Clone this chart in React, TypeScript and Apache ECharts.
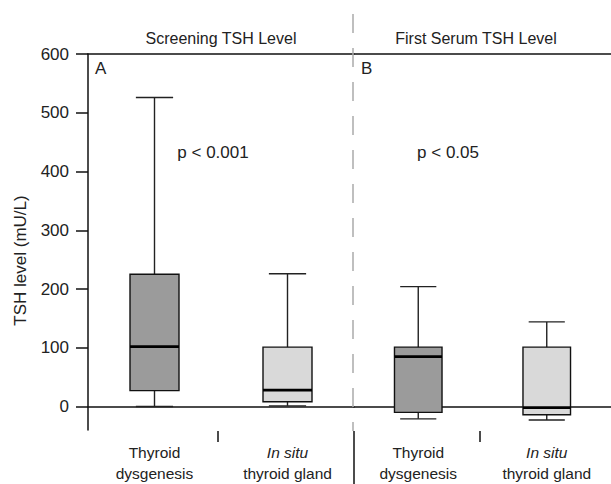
import React, { useEffect, useRef } from "react";
import * as echarts from "echarts";

// ---- data ----
const panelTitles = ["Screening TSH Level", "First Serum TSH Level"];
const panelLetters = ["A", "B"];
const pValues = ["p < 0.001", "p < 0.05"];
const categories = ["Thyroid\ndysgenesis", "{i|In situ}\nthyroid gland"];
const yTicks = [0, 100, 200, 300, 400, 500, 600];
// [categoryIndex, min, Q1, median, Q3, max]
const screeningBoxes = [
  [0, 0, 27, 102, 225, 526],
  [1, 1, 8, 28, 101, 226],
];
const firstSerumBoxes = [
  [0, -21, -10, 85, 101, 204],
  [1, -23, -14, -2, 101, 144],
];
const boxFills = ["#9b9b9b", "#d9d9d9"];

const FONT = "Liberation Sans";
const TEXT = "#222";

function renderBox(params: any, api: any) {
  const c = api.value(0);
  const lo = api.coord([c, api.value(1)]);
  const q1 = api.coord([c, api.value(2)]);
  const md = api.coord([c, api.value(3)]);
  const q3 = api.coord([c, api.value(4)]);
  const hi = api.coord([c, api.value(5)]);
  const band = api.size([1, 0])[0];
  const bw = Math.min(band * 0.37, 49);
  const cw = bw * 0.76;
  const x = lo[0];
  const ls = { stroke: "#222", lineWidth: 1.4 };
  return {
    type: "group",
    children: [
      { type: "line", shape: { x1: x, y1: q3[1], x2: x, y2: hi[1] }, style: ls },
      { type: "line", shape: { x1: x - cw / 2, y1: hi[1], x2: x + cw / 2, y2: hi[1] }, style: ls },
      { type: "line", shape: { x1: x, y1: q1[1], x2: x, y2: lo[1] }, style: ls },
      { type: "line", shape: { x1: x - cw / 2, y1: lo[1], x2: x + cw / 2, y2: lo[1] }, style: ls },
      {
        type: "rect",
        shape: { x: x - bw / 2, y: q3[1], width: bw, height: q1[1] - q3[1] },
        style: { fill: boxFills[c], stroke: "#111", lineWidth: 1.4 },
      },
      {
        type: "line",
        shape: { x1: x - bw / 2, y1: md[1], x2: x + bw / 2, y2: md[1] },
        style: { stroke: "#000", lineWidth: 2.8 },
      },
    ],
  };
}

export default function App() {
  const ref = useRef<HTMLDivElement>(null);
  useEffect(() => {
    if (!ref.current) return;
    const chart = echarts.init(ref.current, null, { renderer: "svg" });
    const axisLine = { show: true, lineStyle: { color: "#111", width: 1.5 } };
    const bottomX = (gi: number) => ({
      type: "category",
      gridIndex: gi,
      data: categories,
      position: "bottom",
      axisLine,
      axisTick: { show: false },
      axisLabel: {
        margin: 12,
        color: TEXT,
        fontFamily: FONT,
        fontSize: 15.5,
        lineHeight: 21,
        rich: { i: { fontStyle: "italic", fontFamily: FONT, fontSize: 15.5, color: TEXT, lineHeight: 21 } },
      },
    });
    const topX = (gi: number) => ({
      type: "category",
      gridIndex: gi,
      data: categories,
      position: "top",
      axisLine,
      axisTick: { show: false },
      axisLabel: { show: false },
    });
    const tick = (x: number, y2: number) => ({
      type: "line",
      shape: { x1: x, y1: 431, x2: x, y2 },
      style: { stroke: "#111", lineWidth: 1.5 },
    });
    const option: any = {
      animation: false,
      backgroundColor: "#fff",
      textStyle: { fontFamily: FONT },
      grid: [
        { left: 88, top: 54, width: 266, bottom: 53 },
        { left: 354, top: 54, right: 0, bottom: 53 },
      ],
      xAxis: [bottomX(0), topX(0), bottomX(1), topX(1)],
      yAxis: [
        {
          type: "value",
          gridIndex: 0,
          min: -40,
          max: 600,
          name: "TSH level (mU/L)",
          nameLocation: "middle",
          nameGap: 59,
          nameTextStyle: { color: TEXT, fontFamily: FONT, fontSize: 17, padding: [0, 37, 0, 0] },
          axisLine,
          axisTick: { show: true, length: 12, customValues: yTicks, lineStyle: { color: "#111", width: 1.5 } },
          axisLabel: { customValues: yTicks, margin: 19, color: TEXT, fontFamily: FONT, fontSize: 17 },
          splitLine: { show: false },
        },
        { type: "value", gridIndex: 1, min: -40, max: 600, show: false, splitLine: { show: false } },
      ],
      series: [
        {
          type: "custom",
          xAxisIndex: 0,
          yAxisIndex: 0,
          renderItem: renderBox,
          encode: { x: 0, y: [1, 2, 3, 4, 5] },
          data: screeningBoxes,
        },
        {
          type: "custom",
          xAxisIndex: 2,
          yAxisIndex: 1,
          renderItem: renderBox,
          encode: { x: 0, y: [1, 2, 3, 4, 5] },
          data: firstSerumBoxes,
        },
      ],
      graphic: [
        {
          type: "line",
          shape: { x1: 353, y1: 14, x2: 353, y2: 431 },
          style: { stroke: "#aaa", lineWidth: 1.5, lineDash: [19, 15] },
          z: 1,
        },
        tick(354, 484),
        tick(218, 442),
        tick(480, 442),
        {
          type: "text",
          x: 221,
          y: 38,
          style: { text: panelTitles[0], fill: TEXT, font: `16px ${FONT}`, textAlign: "center", textVerticalAlign: "middle" },
        },
        {
          type: "text",
          x: 476,
          y: 38,
          style: { text: panelTitles[1], fill: TEXT, font: `16px ${FONT}`, textAlign: "center", textVerticalAlign: "middle" },
        },
        {
          type: "text",
          x: 95,
          y: 68,
          style: { text: panelLetters[0], fill: TEXT, font: `17px ${FONT}`, textAlign: "left", textVerticalAlign: "middle" },
        },
        {
          type: "text",
          x: 361,
          y: 68,
          style: { text: panelLetters[1], fill: TEXT, font: `17px ${FONT}`, textAlign: "left", textVerticalAlign: "middle" },
        },
        {
          type: "text",
          x: 213,
          y: 152,
          style: { text: pValues[0], fill: TEXT, font: `17px ${FONT}`, textAlign: "center", textVerticalAlign: "middle" },
        },
        {
          type: "text",
          x: 448,
          y: 152,
          style: { text: pValues[1], fill: TEXT, font: `17px ${FONT}`, textAlign: "center", textVerticalAlign: "middle" },
        },
      ],
    };
    chart.setOption(option);
    return () => chart.dispose();
  }, []);
  return (
    <div
      ref={ref}
      style={{ width: 611, height: 484, position: "absolute", left: 0, top: 0, background: "#fff" }}
    />
  );
}
